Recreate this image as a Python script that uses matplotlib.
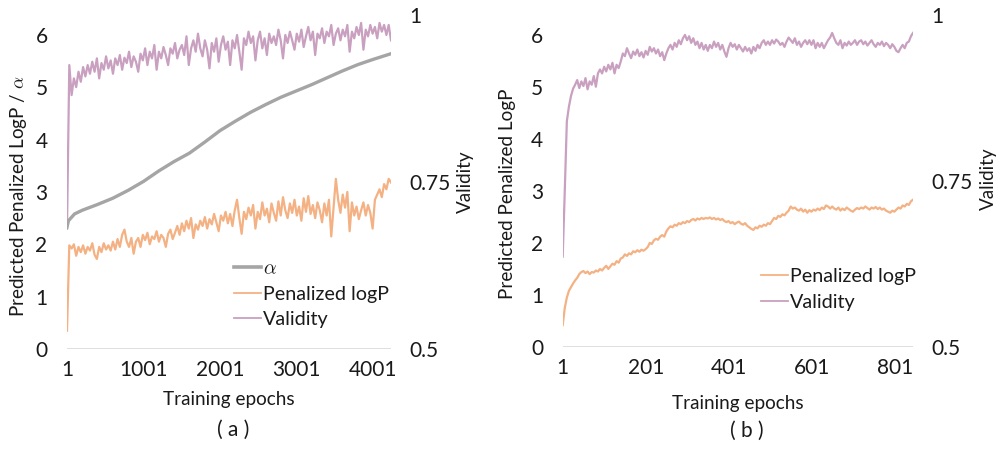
import numpy as np
import matplotlib
matplotlib.use('Agg')
from matplotlib import pyplot as plt
from matplotlib.lines import Line2D

plt.rcParams['font.family'] = ['Lato', 'DejaVu Sans']
plt.rcParams['mathtext.fontset'] = 'cm'

GRAY = '#A5A5A5'
ORANGE = '#F4B183'
PURPLE = '#C9A0C0'
TXT = '#1a1a1a'
FS_TICK = 15
FS_LAB = 13.6
FS_LEG = 14.2

# ---- panel (a): 1 .. 4236 epochs ----
a_validity = [
    0.680, 0.925, 0.880, 0.905, 0.892, 0.915, 0.900, 0.922, 0.908, 0.925,
    0.912, 0.930, 0.915, 0.935, 0.905, 0.928, 0.918, 0.938, 0.920, 0.932,
    0.912, 0.935, 0.925, 0.940, 0.918, 0.936, 0.928, 0.945, 0.922, 0.938,
    0.930, 0.915, 0.942, 0.932, 0.950, 0.925, 0.945, 0.935, 0.955, 0.918,
    0.945, 0.935, 0.952, 0.940, 0.925, 0.950, 0.942, 0.958, 0.935, 0.948,
    0.955, 0.940, 0.968, 0.925, 0.950, 0.962, 0.945, 0.972, 0.950, 0.938,
    0.962, 0.948, 0.920, 0.958, 0.945, 0.965, 0.930, 0.955, 0.968, 0.948,
    0.960, 0.925, 0.962, 0.950, 0.970, 0.945, 0.918, 0.965, 0.955, 0.975,
    0.958, 0.968, 0.932, 0.962, 0.975, 0.950, 0.965, 0.940, 0.972, 0.958,
    0.968, 0.955, 0.978, 0.962, 0.935, 0.970, 0.958, 0.975, 0.962, 0.948,
    0.972, 0.960, 0.978, 0.952, 0.968, 0.982, 0.962, 0.975, 0.940, 0.972,
    0.965, 0.980, 0.958, 0.975, 0.968, 0.985, 0.955, 0.972, 0.980, 0.962,
    0.978, 0.968, 0.985, 0.945, 0.975, 0.965, 0.982, 0.970, 0.988, 0.948,
    0.978, 0.968, 0.985, 0.972, 0.982, 0.965, 0.988, 0.975, 0.985, 0.970,
    0.985, 0.962,
]
a_logp = [
    0.35, 1.98, 1.92, 2.00, 1.78, 1.95, 1.85, 1.98, 1.82, 1.95,
    1.88, 2.02, 1.80, 1.72, 1.95, 1.85, 2.02, 1.90, 1.98, 1.88,
    2.05, 1.90, 2.10, 1.95, 2.18, 2.28, 2.05, 1.95, 2.12, 1.82,
    2.05, 2.12, 1.95, 2.18, 2.08, 2.22, 2.00, 2.15, 2.10, 2.25,
    2.05, 2.18, 2.12, 1.95, 2.20, 2.28, 2.10, 2.22, 2.35, 2.18,
    2.40, 2.25, 2.45, 2.30, 2.50, 2.12, 2.38, 2.28, 2.45, 2.35,
    2.52, 2.30, 2.48, 2.38, 2.58, 2.42, 2.25, 2.55, 2.45, 2.62,
    2.40, 2.58, 2.35, 2.65, 2.85, 2.50, 2.20, 2.62, 2.48, 2.70,
    2.55, 2.75, 2.30, 2.62, 2.48, 2.80, 2.55, 2.68, 2.42, 2.78,
    2.60, 2.45, 2.82, 2.55, 2.90, 2.65, 2.50, 2.78, 2.60, 2.85,
    2.55, 2.72, 2.45, 2.88, 2.62, 2.92, 2.58, 2.75, 2.50, 2.80,
    2.65, 2.42, 2.78, 2.55, 2.85, 2.15, 2.70, 3.25, 2.85, 2.60,
    2.95, 2.70, 3.00, 2.25, 2.80, 2.55, 2.72, 2.48, 2.65, 2.80,
    2.55, 2.75, 2.60, 2.30, 2.85, 2.95, 3.05, 2.90, 3.15, 3.05,
    3.25, 3.18,
]
a_alpha_epochs = [1, 20, 100, 200, 400, 600, 800, 1000, 1200, 1400, 1600, 1800,
                  2000, 2200, 2400, 2600, 2800, 3000, 3200, 3400, 3600, 3800,
                  4000, 4236]
a_alpha = [2.33, 2.45, 2.58, 2.65, 2.76, 2.88, 3.03, 3.20, 3.40, 3.58, 3.74, 3.95,
           4.17, 4.35, 4.52, 4.67, 4.81, 4.93, 5.05, 5.18, 5.31, 5.43,
           5.53, 5.64]
a_last_epoch = 4236
a_ticks = [1, 1001, 2001, 3001, 4001]

# ---- panel (b): 1 .. 845 epochs ----
b_validity = [
    0.636, 0.735, 0.840, 0.862, 0.878, 0.889, 0.895, 0.902, 0.890, 0.900,
    0.893, 0.905, 0.888, 0.900, 0.895, 0.908, 0.892, 0.912, 0.918, 0.912,
    0.922, 0.915, 0.925, 0.918, 0.928, 0.912, 0.925, 0.920, 0.930, 0.942,
    0.938, 0.950, 0.942, 0.935, 0.945, 0.940, 0.948, 0.938, 0.944, 0.936,
    0.946, 0.940, 0.952, 0.945, 0.950, 0.942, 0.948, 0.938, 0.944, 0.932,
    0.942, 0.950, 0.955, 0.948, 0.958, 0.952, 0.962, 0.956, 0.965, 0.970,
    0.962, 0.968, 0.958, 0.965, 0.955, 0.960, 0.950, 0.958, 0.948, 0.955,
    0.946, 0.955, 0.950, 0.960, 0.952, 0.958, 0.948, 0.955, 0.945, 0.937,
    0.950, 0.958, 0.952, 0.956, 0.948, 0.955, 0.950, 0.945, 0.952, 0.946,
    0.950, 0.942, 0.952, 0.946, 0.955, 0.950, 0.958, 0.962, 0.955, 0.960,
    0.955, 0.962, 0.957, 0.963, 0.960, 0.955, 0.958, 0.952, 0.960, 0.966,
    0.962, 0.958, 0.965, 0.955, 0.960, 0.952, 0.958, 0.962, 0.956, 0.962,
    0.955, 0.962, 0.950, 0.958, 0.952, 0.958, 0.950, 0.956, 0.962, 0.966,
    0.973, 0.965, 0.958, 0.955, 0.962, 0.950, 0.958, 0.954, 0.960, 0.955,
    0.958, 0.962, 0.955, 0.960, 0.962, 0.956, 0.960, 0.954, 0.958, 0.962,
    0.956, 0.952, 0.958, 0.955, 0.960, 0.953, 0.958, 0.955, 0.950, 0.956,
    0.952, 0.946, 0.944, 0.950, 0.955, 0.950, 0.958, 0.960, 0.968, 0.973,
]
b_logp = [
    0.42, 0.75, 0.95, 1.08, 1.15, 1.22, 1.28, 1.33, 1.40, 1.44,
    1.46, 1.42, 1.45, 1.40, 1.44, 1.43, 1.47, 1.45, 1.50, 1.47,
    1.52, 1.56, 1.50, 1.55, 1.60, 1.58, 1.65, 1.62, 1.70, 1.72,
    1.78, 1.75, 1.80, 1.78, 1.84, 1.82, 1.86, 1.83, 1.87, 1.85,
    1.88, 1.92, 2.00, 1.98, 2.05, 2.08, 2.06, 2.12, 2.15, 2.12,
    2.22, 2.28, 2.32, 2.30, 2.35, 2.33, 2.38, 2.36, 2.40, 2.38,
    2.42, 2.40, 2.44, 2.46, 2.43, 2.47, 2.45, 2.48, 2.46, 2.48,
    2.47, 2.49, 2.46, 2.48, 2.45, 2.47, 2.44, 2.46, 2.42, 2.40,
    2.42, 2.38, 2.40, 2.36, 2.39, 2.41, 2.37, 2.35, 2.38, 2.33,
    2.30, 2.27, 2.25, 2.30, 2.28, 2.33, 2.31, 2.35, 2.33, 2.38,
    2.36, 2.42, 2.48, 2.46, 2.52, 2.50, 2.55, 2.53, 2.58, 2.62,
    2.70, 2.66, 2.68, 2.64, 2.62, 2.66, 2.60, 2.64, 2.58, 2.63,
    2.60, 2.64, 2.62, 2.66, 2.63, 2.68, 2.65, 2.72, 2.70, 2.66,
    2.70, 2.66, 2.64, 2.68, 2.62, 2.66, 2.63, 2.68, 2.65, 2.62,
    2.60, 2.64, 2.67, 2.65, 2.68, 2.66, 2.70, 2.67, 2.64, 2.68,
    2.66, 2.69, 2.65, 2.68, 2.64, 2.66, 2.62, 2.60, 2.58, 2.62,
    2.60, 2.64, 2.68, 2.66, 2.72, 2.70, 2.75, 2.73, 2.80, 2.83,
]
b_last_epoch = 845
b_ticks = [1, 201, 401, 601, 801]

left_ticks = [0, 1, 2, 3, 4, 5, 6]
right_ticks = [0.5, 0.75, 1.0]
right_labels = ['0.5', '0.75', '1']


def style_axes(ax, ax2, xmax, xticks):
    ax.set_xlim(1, xmax)
    ax.set_ylim(0, 6.38)
    ax2.set_ylim(0.5, 1.0)
    ax.set_xticks(xticks)
    ax.set_xticklabels([str(t) for t in xticks])
    ax.set_yticks(left_ticks)
    ax2.set_yticks(right_ticks)
    ax2.set_yticklabels(right_labels)
    for a in (ax, ax2):
        for s in a.spines.values():
            s.set_visible(False)
        a.tick_params(length=0, labelsize=FS_TICK, colors=TXT)
    ax.tick_params(axis='x', pad=8)
    ax.tick_params(axis='y', pad=14)
    ax2.tick_params(axis='y', pad=13)
    ax.axhline(0, color='#D9D9D9', lw=1.2, zorder=0)


fig = plt.figure(figsize=(10, 4.49), dpi=100)

# panel (a)
ax_a = fig.add_axes([0.067, 0.2227, 0.324, 0.744])
ax_a2 = ax_a.twinx()
xa = np.linspace(1, a_last_epoch, len(a_validity))
xa2 = np.linspace(1, a_last_epoch, len(a_logp))
ax_a2.plot(xa, a_validity, color=PURPLE, lw=1.6)
ax_a.plot(xa2, a_logp, color=ORANGE, lw=1.6)
ax_a.plot(a_alpha_epochs, a_alpha, color=GRAY, lw=2.4)
style_axes(ax_a, ax_a2, a_last_epoch, a_ticks)
ax_a.set_zorder(ax_a2.get_zorder() + 1)
ax_a.patch.set_visible(False)

h_a = [Line2D([], [], color=GRAY, lw=2.6),
       Line2D([], [], color=ORANGE, lw=1.3),
       Line2D([], [], color=PURPLE, lw=1.3)]
ax_a.legend(h_a, [r'$\alpha$', 'Penalized logP', 'Validity'], frameon=False,
            fontsize=FS_LEG, loc='upper left', bbox_to_anchor=(0.226, 0.438),
            bbox_transform=fig.transFigure, handlelength=1.35,
            handletextpad=0.12, labelspacing=0.42, borderaxespad=0, labelcolor=TXT)

# panel (b)
ax_b = fig.add_axes([0.5627, 0.2272, 0.3503, 0.7394])
ax_b2 = ax_b.twinx()
xb = np.linspace(1, b_last_epoch, len(b_validity))
xb2 = np.linspace(1, b_last_epoch, len(b_logp))
ax_b2.plot(xb, b_validity, color=PURPLE, lw=1.6)
ax_b.plot(xb2, b_logp, color=ORANGE, lw=1.6)
style_axes(ax_b, ax_b2, b_last_epoch, b_ticks)

h_b = [Line2D([], [], color=ORANGE, lw=1.3),
       Line2D([], [], color=PURPLE, lw=1.3)]
ax_b2.legend(h_b, ['Penalized logP', 'Validity'], frameon=False,
             fontsize=FS_LEG, loc='upper left', bbox_to_anchor=(0.753, 0.42),
             bbox_transform=fig.transFigure, handlelength=1.35,
             handletextpad=0.12, labelspacing=0.42, borderaxespad=0, labelcolor=TXT)

# axis titles
fig.text(0.019, 0.5624, 'Predicted Penalized LogP / ' + r'$\alpha$', rotation=90,
         ha='center', va='center', fontsize=FS_LAB, color=TXT)
fig.text(0.465, 0.5947, 'Validity', rotation=90, ha='center', va='center',
         fontsize=FS_LAB, color=TXT)
fig.text(0.507, 0.568, 'Predicted Penalized LogP', rotation=90, ha='center',
         va='center', fontsize=FS_LAB, color=TXT)
fig.text(0.988, 0.601, 'Validity', rotation=90, ha='center', va='center',
         fontsize=FS_LAB, color=TXT)
fig.text(0.229, 1 - 400 / 449, 'Training epochs', ha='center', va='center',
         fontsize=FS_LAB, color=TXT)
fig.text(0.738, 1 - 403 / 449, 'Training epochs', ha='center', va='center',
         fontsize=FS_LAB, color=TXT)
fig.text(0.233, 1 - 430 / 449, '( a )', ha='center', va='center',
         fontsize=FS_TICK, color=TXT)
fig.text(0.747, 1 - 431 / 449, '( b )', ha='center', va='center',
         fontsize=FS_TICK, color=TXT)

fig.savefig('out.png', dpi=100, facecolor='white')
